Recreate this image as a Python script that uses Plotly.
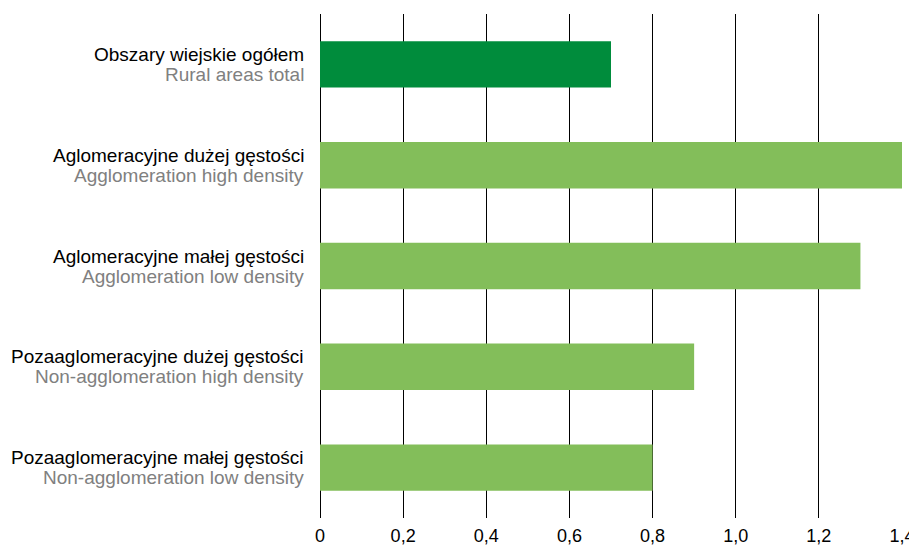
import plotly.graph_objects as go

categories_pl = [
    "Obszary wiejskie ogółem",
    "Aglomeracyjne dużej gęstości",
    "Aglomeracyjne małej gęstości",
    "Pozaaglomeracyjne dużej gęstości",
    "Pozaaglomeracyjne małej gęstości",
]
categories_en = [
    "Rural areas total",
    "Agglomeration high density",
    "Agglomeration low density",
    "Non-agglomeration high density",
    "Non-agglomeration low density",
]
values = [0.7, 1.4, 1.3, 0.9, 0.8]
bar_colors = ["#008C3C", "#83BE5A", "#83BE5A", "#83BE5A", "#83BE5A"]
x_tickvals = [0, 0.2, 0.4, 0.6, 0.8, 1.0, 1.2, 1.4]
x_ticktext = ["0", "0,2", "0,4", "0,6", "0,8", "1,0", "1,2", "1,4"]

FONT = "Liberation Sans, Arial, sans-serif"

fig = go.Figure(
    go.Bar(
        x=values,
        y=categories_pl,
        orientation="h",
        marker=dict(color=bar_colors, line=dict(width=0)),
        width=0.46,
        customdata=categories_en,
        hovertemplate="%{y}<br>%{customdata}: %{x}<extra></extra>",
    )
)

annotations = []
for pl, en in zip(categories_pl, categories_en):
    annotations.append(dict(
        x=0, xref="paper", y=pl, yref="y", text=pl, showarrow=False,
        xanchor="right", yanchor="middle", xshift=-14, yshift=10,
        font=dict(family=FONT, size=19, color="#000000"),
    ))
    annotations.append(dict(
        x=0, xref="paper", y=pl, yref="y", text=en, showarrow=False,
        xanchor="right", yanchor="middle", xshift=-14, yshift=-10,
        font=dict(family=FONT, size=19, color="#808080"),
    ))

fig.update_layout(
    width=909,
    height=537,
    margin=dict(l=312, r=15, t=6, b=27),
    paper_bgcolor="white",
    plot_bgcolor="white",
    font=dict(family=FONT, size=16, color="#000000"),
    showlegend=False,
    annotations=annotations,
)
fig.update_xaxes(
    range=[0, 1.4],
    tickvals=x_tickvals,
    ticktext=x_ticktext,
    showgrid=True,
    gridcolor="#000000",
    gridwidth=1,
    zeroline=True,
    zerolinecolor="#000000",
    zerolinewidth=1,
    showline=False,
    ticks="",
    ticklabelstandoff=5,
    tickfont=dict(family=FONT, size=18, color="#000000"),
    automargin=False,
    fixedrange=True,
)
fig.update_yaxes(
    autorange="reversed",
    showgrid=False,
    showline=False,
    zeroline=False,
    ticks="",
    showticklabels=False,
    automargin=False,
    fixedrange=True,
)

fig.write_html("out.html")
